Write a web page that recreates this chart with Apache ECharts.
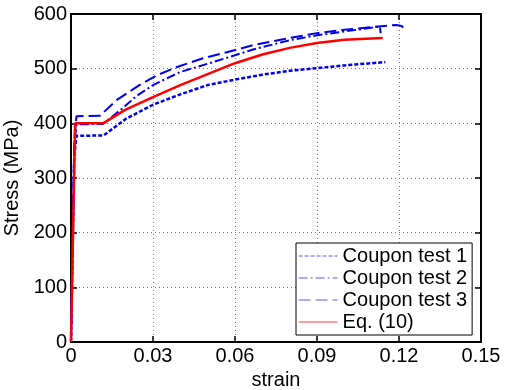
<!DOCTYPE html>
<html>
<head>
<meta charset="utf-8">
<script src="https://cdn.jsdelivr.net/npm/echarts@6/dist/echarts.min.js"></script>
<style>
  html, body { margin: 0; padding: 0; background: #fff; }
  #chart { width: 511px; height: 390px; }
</style>
</head>
<body>
<div id="chart"></div>
<script>
// Coupon test 1 (dotted)
var c1Strain = [0, 0.0012, 0.002, 0.012, 0.02, 0.03, 0.04, 0.05, 0.06, 0.07, 0.08, 0.09, 0.10, 0.115];
var c1Stress = [0, 340, 377, 378, 408, 434, 453, 470, 480, 489, 496, 501, 506, 512];
// Coupon test 2 (dash-dot)
var c2Strain = [0, 0.0012, 0.002, 0.0117, 0.018, 0.024, 0.03, 0.04, 0.052, 0.0666, 0.08, 0.09, 0.10, 0.113, 0.1133];
var c2Stress = [0, 360, 398, 399, 424, 450, 470, 494, 512, 535, 552, 561, 568, 577, 565];
// Coupon test 3 (dashed)
var c3Strain = [0, 0.0012, 0.002, 0.0106, 0.0168, 0.025, 0.0315, 0.0388, 0.0483, 0.057, 0.0666, 0.08, 0.09, 0.10, 0.11, 0.119, 0.121, 0.1225];
var c3Stress = [0, 370, 413, 414, 443, 470, 488, 503, 519, 530, 543, 556, 565, 571, 576, 580, 578, 570];
// Eq. (10)
var eqStrain = [0, 0.0015, 0.0117, 0.02, 0.03, 0.04, 0.05, 0.06, 0.07, 0.08, 0.09, 0.10, 0.114];
var eqStress = [0, 400, 400, 425, 448, 470, 490, 510, 526, 538, 547, 553, 556];

var xTicks = [0, 0.03, 0.06, 0.09, 0.12, 0.15];
var yTicks = [0, 100, 200, 300, 400, 500, 600];

function pairs(xs, ys) {
  return xs.map(function (x, i) { return [x, ys[i]]; });
}

var font = "'Liberation Sans', Arial, sans-serif";
var blue = "#0000ee";
var legendBlue = "#5a5aff";

var chartDom = document.getElementById("chart");
var myChart = echarts.init(chartDom);
var option = {
  animation: false,
  textStyle: { fontFamily: font },
  grid: { left: 71, right: 30, top: 14, bottom: 48, containLabel: false, outerBoundsMode: "none" },
  legend: {
    orient: "vertical",
    left: 296,
    top: 243,
    backgroundColor: "#fff",
    borderColor: "#000",
    borderWidth: 1,
    borderRadius: 0,
    padding: [3, 5, 3, 2],
    itemGap: 2,
    itemWidth: 39,
    itemHeight: 14,
    itemStyle: { opacity: 0 },
    lineStyle: { width: 1.2 },
    textStyle: { fontSize: 20, color: "#000", fontFamily: font },
    data: [
      { name: "Coupon test 1", lineStyle: { color: legendBlue } },
      { name: "Coupon test 2", lineStyle: { color: legendBlue } },
      { name: "Coupon test 3", lineStyle: { color: legendBlue } },
      { name: "Eq. (10)", lineStyle: { color: "#ff4040" } }
    ]
  },
  xAxis: [
    {
      type: "value",
      min: 0,
      max: 0.15,
      interval: 0.03,
      name: "strain",
      nameLocation: "middle",
      nameGap: 28,
      nameTextStyle: { fontSize: 20, color: "#000" },
      axisLine: { lineStyle: { color: "#000", width: 2 } },
      axisTick: { inside: true, length: 6, lineStyle: { color: "#000", width: 1.5 } },
      axisLabel: {
        color: "#000",
        fontSize: 20,
        margin: 4,
        formatter: function (v) { return String(+v.toFixed(2)); }
      },
      splitLine: { show: true, lineStyle: { color: "#777", type: [1, 3], width: 1 } }
    },
    {
      type: "value",
      position: "top",
      min: 0,
      max: 0.15,
      interval: 0.03,
      axisLine: { show: true, onZero: false, lineStyle: { color: "#000", width: 2 } },
      axisTick: { show: true, inside: true, length: 6, lineStyle: { color: "#000", width: 1.5 } },
      axisLabel: { show: false },
      splitLine: { show: false }
    }
  ],
  yAxis: [
    {
      type: "value",
      min: 0,
      max: 600,
      interval: 100,
      name: "Stress (MPa)",
      nameLocation: "middle",
      nameGap: 42,
      nameTextStyle: { fontSize: 20, color: "#000" },
      axisLine: { show: true, lineStyle: { color: "#000", width: 2 } },
      axisTick: { show: true, inside: true, length: 6, lineStyle: { color: "#000", width: 1.5 } },
      axisLabel: { color: "#000", fontSize: 20, margin: 4 },
      splitLine: { show: true, lineStyle: { color: "#777", type: [1, 3], width: 1 } }
    },
    {
      type: "value",
      position: "right",
      min: 0,
      max: 600,
      interval: 100,
      axisLine: { show: true, onZero: false, lineStyle: { color: "#000", width: 2 } },
      axisTick: { show: true, inside: true, length: 6, lineStyle: { color: "#000", width: 1.5 } },
      axisLabel: { show: false },
      splitLine: { show: false }
    }
  ],
  series: [
    {
      name: "Coupon test 1",
      type: "line",
      symbol: "none",
      data: pairs(c1Strain, c1Stress),
      lineStyle: { color: blue, width: 2.5, type: [4, 2] },
      itemStyle: { color: blue }
    },
    {
      name: "Coupon test 2",
      type: "line",
      symbol: "none",
      data: pairs(c2Strain, c2Stress),
      lineStyle: { color: blue, width: 2, type: [9, 3, 2, 3] },
      itemStyle: { color: blue }
    },
    {
      name: "Coupon test 3",
      type: "line",
      symbol: "none",
      data: pairs(c3Strain, c3Stress),
      lineStyle: { color: blue, width: 2, type: [12, 5] },
      itemStyle: { color: blue }
    },
    {
      name: "Eq. (10)",
      type: "line",
      symbol: "none",
      data: pairs(eqStrain, eqStress),
      lineStyle: { color: "#ff0000", width: 2.5, type: "solid" },
      itemStyle: { color: "#ff0000" }
    }
  ]
};
option && myChart.setOption(option);
</script>
</body>
</html>
